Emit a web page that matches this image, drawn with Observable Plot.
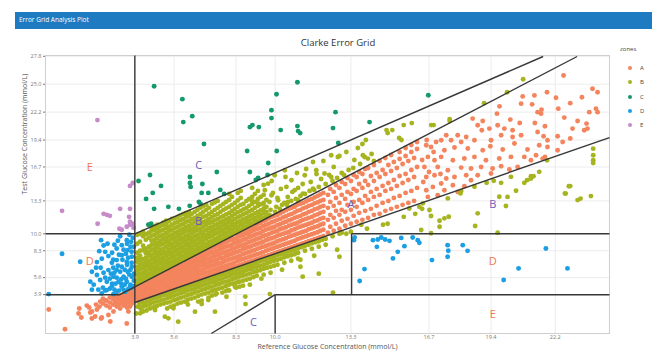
<!DOCTYPE html>
<html>
<head>
<meta charset="utf-8">
<script src="https://cdn.jsdelivr.net/npm/d3@7"></script>
<script src="https://cdn.jsdelivr.net/npm/@observablehq/plot@0.6"></script>
<style>
  html, body { margin: 0; padding: 0; background: #fff; }
  #wrap { position: relative; width: 652px; height: 352px; overflow: hidden; font-family: "Open Sans", sans-serif; }
  #wrap svg { position: absolute; left: 0; top: 0; }
  #bar { position: absolute; left: 15px; top: 12px; width: 637px; height: 17px; background: #1e7bc1; }
  #bar span { position: absolute; left: 4px; top: 3px; color: #fff; font-size: 6.5px; }
  #title { position: absolute; left: 0; width: 676px; top: 36px; text-align: center; font-size: 9.5px; color: #333; }
  #legend { position: absolute; left: 620px; top: 45px; font-size: 6px; color: #444; }
  #legend .head { margin-bottom: 11px; }
  #legend .item { position: relative; height: 14.3px; padding-left: 20px; line-height: 8px; }
  #legend .item i { position: absolute; left: 8px; top: 2px; width: 4px; height: 4px; border-radius: 50%; }
</style>
</head>
<body>
<div id="wrap">
  <div id="bar"><span>Error Grid Analysis Plot</span></div>
  <div id="title">Clarke Error Grid</div>
  <div id="legend"></div>
</div>
<script>
// Reference vs. test readings (mmol/L). Each row: [reference, test, test, ...]
const zoneA = [
  [0.14,2.4],[0.85,0.42],[1.44,2.0],[1.47,2.5],[1.56,1.6],[1.8,2.8],[1.9,2.6],[1.95,2.1],[2.02,1.5,2.2],[2.16,1.7],[2.24,2.4],
  [2.42,1.5],[2.45,1.6],[2.74,1.85],[2.82,1.2],[2.96,2.2],[3.54,1.0],[3.61,2.2],[3.68,2.7],[2.38,3.2],[2.6,3.35],
  [2.2,2.9],[2.35,2.7],[2.5,3.0,3.5],[2.65,2.8,3.3],[2.8,2.6,3.1,3.6],[2.95,2.9,3.4,3.8],[3.1,2.7,3.2,3.65],
  [3.25,2.5,3.0,3.45,3.85],[3.4,2.8,3.3,3.7,4.0],[3.55,2.6,3.1,3.5,3.9],[3.7,2.9,3.3,3.75,4.15],[3.82,3.1,3.55,4.0,4.4],
  [3.02,3.05,3.55],[3.17,2.9,3.4],[3.32,3.2,3.6],[3.47,2.95,3.4,3.8],[3.62,3.25,3.65,4.05],[3.76,3.0,3.45,3.9,4.3],
  [3.95,3.25,3.55,3.85,4.15,4.45],
  [4.02,3.35,3.7,4.0,4.3,4.6],
  [4.1,3.4,3.75,4.05,4.4,4.7],
  [4.22,3.5,3.85,4.2,4.5,4.85],
  [4.35,3.55,3.9,4.25,4.6,4.95],
  [4.47,3.7,4.05,4.4,4.75,5.1],
  [4.6,3.8,4.15,4.5,4.85,5.2,5.4],
  [4.72,3.85,4.25,4.6,4.95,5.3,5.55],
  [4.85,3.95,4.3,4.7,5.05,5.4,5.7],
  [4.97,4.05,4.4,4.8,5.15,5.5,5.85],
  [5.1,4.15,4.5,4.9,5.3,5.65,5.95],
  [5.22,4.25,4.6,5.0,5.4,5.75,6.1],
  [5.35,4.35,4.75,5.1,5.5,5.9,6.25],
  [5.47,4.45,4.85,5.25,5.6,6.0,6.4],
  [5.6,4.55,4.95,5.35,5.75,6.1,6.5],
  [5.72,4.65,5.05,5.45,5.85,6.25,6.65],
  [5.85,4.75,5.15,5.55,5.95,6.35,6.8],
  [5.97,4.85,5.25,5.65,6.05,6.45,6.85],
  [6.1,4.95,5.35,5.75,6.15,6.55,6.95,7.2],
  [6.22,5.05,5.45,5.85,6.3,6.7,7.1,7.35],
  [6.35,5.15,5.55,5.95,6.4,6.8,7.2,7.5],
  [6.47,5.25,5.65,6.05,6.5,6.9,7.3,7.65],
  [6.6,5.35,5.75,6.2,6.6,7.0,7.4,7.8],
  [6.72,5.45,5.9,6.3,6.75,7.15,7.55,7.95],
  [6.85,5.55,6.0,6.4,6.85,7.25,7.7,8.05],
  [6.97,5.65,6.1,6.55,6.95,7.4,7.8,8.2],
  [7.1,5.75,6.2,6.65,7.1,7.5,7.95,8.35],
  [7.22,5.85,6.3,6.75,7.2,7.6,8.05,8.5],
  [7.35,5.95,6.4,6.85,7.3,7.75,8.2,8.65],
  [7.47,6.05,6.5,6.95,7.4,7.85,8.3,8.75],
  [7.6,6.15,6.6,7.05,7.55,8.0,8.45,8.9],
  [7.72,6.25,6.7,7.15,7.6,8.1,8.55,9.0],
  [7.85,6.35,6.8,7.3,7.75,8.2,8.7,9.15],
  [7.97,6.45,6.9,7.4,7.85,8.3,8.8,9.3],
  [8.1,6.55,7.0,7.5,8.0,8.45,8.9,9.4,9.65],
  [8.22,6.65,7.1,7.6,8.1,8.55,9.05,9.5],
  [8.35,6.75,7.25,7.7,8.2,8.7,9.15,9.6,9.95],
  [8.47,6.85,7.35,7.8,8.3,8.8,9.25,9.75,10.1],
  [8.6,6.95,7.45,7.95,8.45,8.9,9.4,9.85,10.25],
  [8.72,7.05,7.55,8.05,8.55,9.0,9.5,10.0,10.4],
  [8.85,7.15,7.65,8.15,8.65,9.15,9.65,10.1,10.5],
  [8.97,7.25,7.75,8.25,8.75,9.25,9.75,10.25,10.65],
  [9.1,7.35,7.85,8.35,8.9,9.4,9.9,10.4,10.8],
  [9.22,7.45,7.95,8.5,9.0,9.5,10.0,10.5,10.95],
  [9.35,7.55,8.05,8.6,9.1,9.6,10.1,10.6,11.1],
  [9.47,7.65,8.15,8.7,9.2,9.75,10.25,10.75,11.25],
  [9.6,7.75,8.3,8.8,9.35,9.85,10.4,10.9,11.4],
  [9.72,7.85,8.4,8.9,9.45,9.95,10.5,11.0,11.55],
  [9.85,7.95,8.5,9.0,9.55,10.1,10.6,11.15,11.7],
  [9.97,8.05,8.6,9.1,9.65,10.2,10.7,11.25,11.8],
  [10.1,8.15,8.7,9.25,9.8,10.3,10.85,11.4,11.9],
  [10.22,8.25,8.8,9.35,9.9,10.45,10.95,11.5,12.05],
  [10.35,8.35,8.9,9.45,10.0,10.55,11.1,11.65,12.2],
  [10.47,8.45,9.0,9.55,10.1,10.65,11.2,11.75,12.35],
  [10.6,8.55,9.1,9.7,10.2,10.8,11.35,11.9,12.5],
  [10.72,8.65,9.2,9.8,10.35,10.9,11.45,12.0,12.6],
  [10.85,8.75,9.3,9.9,10.45,11.0,11.6,12.15,12.7],
  [10.97,8.85,9.45,10.0,10.6,11.1,11.7,12.3,12.9],
  [11.1,8.95,9.55,10.1,10.7,11.25,11.8,12.4,13.0],
  [11.22,9.05,9.65,10.2,10.8,11.4,11.95,12.55,13.1],
  [11.35,9.15,9.75,10.3,10.9,11.5,12.05,12.65,13.25],
  [11.47,9.25,9.85,10.45,11.0,11.6,12.2,12.8,13.4],
  [11.6,9.35,9.95,10.55,11.1,11.7,12.3,12.9,13.5],
  [11.72,9.45,10.05,10.65,11.25,11.85,12.45,13.05,13.65],
  [11.85,9.55,10.15,10.75,11.35,11.95,12.55,13.15,13.8],
  [11.97,9.65,10.3,10.9,11.5,12.1,12.7,13.3,13.95],
  [12.1,9.75,10.4,11.0,11.6,12.2,12.8,13.4,14.1],
  [12.3,10.1,11.4,12.6,13.9],[12.4,10.7,11.9,13.2,14.5],
  [12.55,10.3,11.6,12.8,14.2],[12.65,11.0,12.3,13.6,14.9],
  [12.8,10.5,11.9,13.1,14.6],[12.9,11.3,12.4,13.9,15.2],
  [13.05,10.8,12.2,13.5,15.0],[13.15,11.5,12.9,14.2,15.6],
  [13.3,11.0,12.4,14.0,15.3],[13.42,11.8,13.2,14.5,15.9],
  [13.55,11.2,12.7,14.3,15.7],[13.66,12.1,13.4,15.0,16.2],
  [13.8,11.4,13.1,14.6,16.0],[13.92,12.3,13.8,15.3,16.5],
  [14.05,11.6,13.4,14.9,16.6],[14.17,12.5,14.2,15.8],
  [14.3,11.9,13.7,15.3,16.9],[14.42,12.8,14.5,16.1],
  [14.55,12.0,13.9,15.7,17.3],[14.68,13.1,14.8,16.4],
  [14.8,12.3,14.3,16.0,17.6],[14.93,13.3,15.1,16.9],
  [15.05,12.5,14.5,16.3,17.9],[15.17,13.6,15.4,17.2],
  [15.3,12.7,14.8,16.6],[15.42,13.8,15.8,17.5,18.2],
  [15.55,12.9,15.1,17.0],[15.68,14.1,16.0,17.8,18.6],
  [15.8,13.1,15.4,17.3],[15.93,14.3,16.4,18.2,18.9],
  [16.05,13.3,15.7,17.6],[16.18,14.6,16.7,18.5,19.2],
  [22.56,25.88],[23.82,24.55],[24.04,24.2],[21.84,24.2],[22.23,23.65],[23.36,23.7],[20.78,23.78],[21.29,23.88],
  [19.77,22.78],[20.71,23.05],[21.19,22.98],[21.6,22.45],[21.43,22.2],[22.33,22.55],[22.85,23.1],[23.97,22.55],
  [24.04,22.2],[23.68,22.2],[21.58,22.05],[19.66,22.05],[18.6,21.55],[19.04,21.31],[20.24,21.45],[20.65,21.11],
  [21.31,21.11],[21.75,20.78],[22.59,21.65],[23.17,21.31],[23.56,21.05],[23.6,20.55],[22.95,20.55],[23.46,20.38],
  [18.82,20.88],[19.0,20.38],[19.33,20.55],[19.69,20.88],[19.98,20.55],[20.34,20.38],[19.84,19.88],[20.34,19.71],
  [20.71,19.88],[21.43,20.21],[21.69,19.78],[21.86,19.38],[22.3,19.78],[22.52,19.21],[22.85,19.55],[18.32,19.71],
  [18.68,19.38],[18.1,19.21],[17.66,19.38],[17.95,19.88],[17.45,19.88],[17.23,19.38],[17.01,19.21],[19.4,19.38],
  [19.37,18.78],[19.04,18.38],[18.39,18.55],[17.81,18.65],[17.37,18.38],[16.79,18.71],[16.58,18.88],[19.91,18.45],
  [20.42,19.05],[20.99,18.45],[21.5,18.88],[21.86,18.71],[21.36,17.88],[21.75,17.71],[22.3,18.38],[20.85,17.71],
  [20.27,17.71],[19.76,17.55],[19.18,17.38],[18.68,17.71],[18.24,17.55],[17.74,17.38],[17.23,17.71],[16.94,17.38],
  [16.65,17.71],[16.5,16.7],[17.08,16.7],[17.52,16.37],[18.1,16.64],[18.53,16.54],[18.97,16.7],[19.47,16.54],
  [19.84,16.77],[20.2,16.44],[20.56,16.7],[21.14,17.37],[21.65,17.54],[17.81,15.7],[18.32,15.87],[18.82,15.87],
  [19.4,16.04],[17.45,15.54],[16.94,15.87],[16.58,15.7],[17.23,15.04],[17.74,14.87],[18.24,14.77],[18.53,15.37],
  [16.87,14.7],[16.58,14.37],[17.37,14.37],[17.95,14.2],[17.08,13.87],[16.65,13.7],[16.45,15.2],[16.7,16.2],
  [16.4,17.4],[16.9,18.2],[17.2,16.0],[16.6,19.4]
];

const zoneB = [
  // above the A band
  [4.0,5.0,5.4,5.85,6.3,6.7,7.2,7.6,8.1,9.0,9.9],
  [4.12,5.15,5.55,6.0,6.45,6.9,7.35,7.8,8.3,9.2,10.0],
  [4.25,5.3,5.7,6.1,6.55,7.0,7.45,8.35,8.8,9.75,10.2],
  [4.37,5.45,5.85,6.3,6.75,7.15,7.6,8.05,8.5,9.4,9.95],
  [4.5,5.6,6.0,6.45,6.9,7.3,7.8,8.2,8.7,9.6,10.1],
  [4.62,5.75,6.15,6.6,7.0,7.45,7.9,8.4,8.85,9.3,9.8,10.3,10.6],
  [4.75,5.9,6.3,6.7,7.15,7.6,8.05,8.5,8.95,9.4,9.9,10.4,10.75],
  [4.87,6.05,6.45,6.9,7.3,7.75,8.2,8.65,9.1,9.6,10.1,10.55,10.9],
  [5.0,6.2,6.6,7.05,7.5,7.95,8.4,8.9,9.3,9.8,10.3,10.8],
  [5.12,6.35,6.75,7.2,7.6,8.05,8.5,9.0,9.45,9.9,10.4,10.9,11.1],
  [5.25,6.5,6.9,7.3,7.75,8.2,8.7,9.15,9.6,10.05,10.55,11.0,11.3],
  [5.37,6.65,7.05,7.5,7.95,8.4,8.85,9.3,9.75,10.25,10.7,11.25],
  [5.5,6.8,7.2,7.65,8.1,8.55,9.0,9.5,9.9,10.4,10.9,11.5],
  [5.62,6.95,7.35,7.8,8.25,8.7,9.15,9.6,10.05,10.55,11.05,11.55],
  [5.75,7.1,7.5,7.95,8.4,8.85,9.3,9.75,10.2,10.7,11.2,11.7],
  [5.87,7.25,7.65,8.1,8.55,9.0,9.45,9.9,10.35,10.85,11.35,11.85],
  [6.0,7.4,7.8,8.25,8.7,9.15,9.6,10.1,10.5,11.0,11.5,12.0],
  [6.12,7.55,7.95,8.4,8.85,9.3,9.75,10.25,10.7,11.2,11.7,12.1],
  [6.25,7.7,8.1,8.55,9.0,9.45,9.9,10.35,10.8,11.3,11.8,12.2],
  [6.37,7.85,8.25,8.7,9.15,9.6,10.05,10.5,11.0,11.5,12.0],
  [6.5,8.0,8.4,8.85,9.3,9.75,10.25,10.7,11.2,11.6,12.2],
  [6.62,8.15,8.55,9.0,9.45,9.9,10.4,10.85,11.35,11.8,12.4],
  [6.75,8.3,8.7,9.15,9.6,10.05,10.5,11.0,11.5,12.0,12.6],
  [6.87,8.45,8.85,9.3,9.75,10.2,10.7,11.15,11.7,12.2,12.75],
  [7.0,8.6,9.0,9.5,9.9,10.4,10.9,11.3,11.8,12.4,12.9],
  [7.12,8.75,9.15,9.65,10.1,10.55,11.05,11.5,12.0,12.6],
  [7.25,8.9,9.3,9.8,10.25,10.7,11.2,11.7,12.2,13.0],
  [7.37,9.05,9.45,9.95,10.4,10.85,11.35,11.85,12.4,13.15],
  [7.5,9.2,9.6,10.1,10.55,11.0,11.5,12.0,12.6,13.3],
  [7.62,9.35,9.8,10.25,10.7,11.15,11.65,12.2,12.8],
  [7.75,9.5,9.95,10.4,10.85,11.3,11.8,12.4,13.0],
  [7.87,9.65,10.1,10.55,11.0,11.45,11.95,12.55,13.2],
  [8.0,9.8,10.25,10.7,11.15,11.6,12.1,12.7,13.4,14.0],
  [8.12,9.95,10.4,10.85,11.3,11.8,12.3,12.9,13.7],
  [8.25,10.1,10.55,11.0,11.5,12.0,12.5,13.1],
  [8.37,10.25,10.7,11.15,11.65,12.15,12.7,13.35,14.1],
  [8.5,10.4,10.85,11.3,11.8,12.3,12.9,13.6,14.3],
  [8.62,10.55,11.0,11.45,11.95,12.45,13.0],
  [8.75,10.7,11.15,11.6,12.1,12.6,13.3],
  [8.87,10.85,11.3,11.75,12.25,12.8,13.5],
  [9.0,11.0,11.45,11.9,12.4,13.0,13.7,14.6],
  [9.12,11.15,11.6,12.05,12.6,13.2,14.0],
  [9.25,11.3,11.75,12.2,12.8,13.5,14.3],
  [9.37,11.45,11.9,12.35,12.95,13.7],
  [9.5,11.6,12.05,12.5,13.1,13.9,14.9],
  [9.62,11.75,12.2,12.7,13.4],
  [8.97,13.37],[9.26,13.03],[9.55,12.7,14.37],[9.69,15.03],[9.84,13.87],[9.98,15.87],[10.13,13.37],[10.42,16.37],
  [10.56,13.2],[11.0,13.37],[10.49,14.7],[10.71,15.37],[10.85,14.37],[11.21,14.03],[11.65,14.53,17.2],[11.29,15.87],
  [11.79,16.37],[12.15,16.04],[12.44,15.7,17.87],[12.73,17.7],[13.82,17.87],[14.04,17.54],
  [9.75,11.9],[9.8,12.4],[9.75,13.2],[9.9,14.1],[9.85,15.3],[10.0,12.2],[10.05,12.7],[10.1,13.6],[10.2,12.5],
  [10.3,12.9],[10.25,14.5],[10.4,13.1],[10.45,15.7],[10.5,12.9],[10.55,13.7],[10.7,13.3],[10.75,14.2],[10.9,13.5],
  [10.95,16.1],[11.0,14.6],[11.1,13.8],[11.2,15.0],[11.3,14.0],[11.35,16.5],[11.5,14.3],[11.55,15.2],[11.7,14.4],
  [11.8,16.0],[11.9,14.7],[12.0,15.5],[12.1,17.3],[12.2,15.0],[12.35,15.9],[12.5,15.3],[12.55,16.7],[12.7,15.6],
  [12.8,17.8],[12.9,16.1],[13.0,15.9],[13.2,16.4],[13.1,18.2],[13.4,16.6],[13.45,17.4],[13.6,18.6],[13.7,17.0],
  [13.8,19.0],[13.95,19.4],[13.9,17.7],[14.2,18.0],[14.3,17.3],[14.85,20.4],[14.9,20.1],[15.1,20.4],[15.4,19.6],
  [15.5,19.4],[15.6,20.9],[15.95,21.1],[16.8,20.9],[16.9,20.9],[17.6,21.5,21.3],[19.1,23.1],[20.1,24.2],[20.8,25.5],
  // below the A band
  [4.1,3.0,2.6],[4.25,3.1,2.7,2.2],[4.4,3.2,2.8,2.3],[4.55,3.35,2.95,2.5],[4.7,3.5,3.1,2.6],[4.85,3.6,3.2,2.75],
  [5.0,3.7,3.3,2.9],[5.15,3.85,3.4,3.0],[5.3,3.95,3.55,3.1,2.5],[5.45,4.05,3.65,3.2,2.7],[5.6,4.2,3.8,3.35,2.8],
  [5.75,4.3,3.9,3.45,3.0],[5.9,4.45,4.05,3.6,3.1],[6.05,4.55,4.15,3.7,3.2],[6.2,4.7,4.3,3.85,3.4,2.9],
  [6.35,4.8,4.4,3.95,3.5],[6.5,4.9,4.5,4.1,3.6],[6.65,5.05,4.65,4.2,3.75,3.2],[6.8,5.2,4.8,4.35,3.9,3.3],
  [6.95,5.3,4.9,4.45,4.0],[7.1,5.4,5.0,4.6,4.1,3.6],[7.25,5.55,5.15,4.7,4.25,3.8],[7.4,5.65,5.25,4.85,4.4,3.9],
  [7.55,5.8,5.4,4.95,4.5],[7.7,5.9,5.5,5.1,4.6,4.1],[7.85,6.05,5.65,5.2,4.75,4.25],[8.0,6.15,5.75,5.3,4.9,4.3],
  [8.15,6.3,5.9,5.45,5.0],[8.3,6.4,6.0,5.6,5.1,4.6],[8.45,6.5,6.1,5.7,5.2,4.7],[8.6,6.6,6.2,5.8,5.3,4.8],
  [8.75,6.75,6.35,5.9,5.4],[8.9,6.85,6.45,6.0,5.5,4.9],[9.05,7.0,6.6,6.15,5.65],[9.2,7.1,6.7,6.25,5.8],
  [9.35,7.25,6.8,6.35],[9.5,7.35,6.9,6.5,5.9],[9.65,7.5,7.05,6.6],[9.8,7.6,7.2,6.7,6.1],[9.95,7.7,7.3,6.8],
  [10.1,7.85,7.4,6.9],[10.25,7.95,7.5],[10.4,8.05,7.65,7.1],[10.55,8.2,7.75],[10.7,8.3,7.85,7.3],[10.85,8.4,7.95],
  [11.0,8.55,8.1,7.5],[11.15,8.65],[11.3,8.8,8.3],[11.45,8.9],[11.6,9.05,8.5],[11.75,9.15],[11.9,9.25,8.7],
  [12.05,9.4],[12.2,9.5,8.9],[12.5,9.75],[12.8,10.0],
  [4.0,2.7],[4.12,2.02],[4.34,2.86],[4.77,2.36,2.68],[5.2,1.69],[5.57,2.52],[5.78,1.19],[6.15,3.19],[6.51,2.19],
  [6.8,2.96],[7.09,3.36],[7.38,2.19],[7.45,4.02],[7.88,3.69],[7.96,4.36],[8.25,4.69],[8.4,5.2],[8.7,3.7],
  [8.71,2.95],[9.77,3.95],[12.52,4.08],[5.35,1.52],[4.19,2.28],[3.95,2.0],[9.4,5.5],[10.3,6.4],[11.1,7.4,6.7],
  [11.2,5.7],[11.9,6.0],[11.7,7.8],[12.7,8.4],[12.8,7.7],[12.9,10.1],[13.1,10.0],[13.3,10.2],[13.75,10.9],
  [14.0,10.5],[14.7,10.9],[14.9,11.0],[15.6,11.7],[16.1,12.0],[16.4,12.5],[15.84,12.53],[16.28,12.7],
  [23.85,18.54,17.87,17.37,17.1],[21.84,17.38],[21.5,16.21],[21.14,15.78],[20.97,15.38],[20.85,15.11],[20.27,15.71],
  [20.49,14.31],[19.84,15.11],[19.76,13.71],[20.05,12.78],[19.52,15.31],[19.21,15.11],[18.68,14.71],[18.07,14.05],
  [17.52,13.55],[18.82,12.05],[18.71,10.78],[17.56,11.71],[17.37,11.55],[17.16,11.31,10.71],[16.79,11.78,10.05],
  [16.72,12.38],[19.69,10.11],[22.85,14.78],[22.62,14.05],[23.17,13.38],[23.75,13.78],[16.36,10.38],[16.43,13.05],
  [22.79,14.77],[22.65,14.03],[23.3,13.53],[21.13,15.53],[21.25,15.77],[20.12,13.7],[18.1,14.3]
];

const zoneC = [
  [4.73,24.8],[5.96,23.5],[6.0,21.2],[6.39,21.8],[6.9,19.0],[10.97,25.2],[10.06,24.0],[9.84,22.4,21.6],[8.9,20.7],
  [9.01,20.9],[9.29,20.7],[10.24,20.4],[10.97,20.8],[11.0,20.3],[11.09,20.1],[12.63,22.2],[12.52,20.6],[12.75,19.1],
  [14.11,21.2],[8.78,18.3],[10.07,18.3],[9.7,17.1],[8.9,16.2],[9.26,15.6],[9.16,15.4],[9.67,15.9],[7.46,16.2],
  [6.29,15.7,15.1],[6.32,14.7],[6.83,15.0],[6.8,14.1],[7.09,14.1],[7.61,14.4],[7.78,14.0],[5.03,14.8],[4.55,15.9],
  [4.05,15.3],[4.67,14.1],[4.38,13.5],[4.73,12.5],[5.35,12.7],[5.81,12.5],[6.68,13.2],[6.75,13.0],[6.28,12.8],
  [4.6,11.0],[4.48,10.9],[16.67,23.9]
];

const zoneD = [
  [0.72,8.0],[0.14,3.95],[1.51,7.2],[2.02,4.4],[2.42,9.36],[2.53,8.83],[2.34,8.26],[2.6,8.19],[2.74,7.76],[2.45,7.49],
  [2.24,7.16],[2.89,7.09],[2.02,6.19],[2.24,5.86],[2.53,6.09],[2.74,6.36],[2.96,5.69],[2.38,5.36],[2.67,5.19],
  [3.25,9.76],[3.54,9.36],[3.73,9.2],[3.32,8.86],[3.1,8.53],[3.58,8.36],[3.32,7.86],[3.76,7.69],[3.1,7.36],
  [3.54,7.19],[3.32,6.69],[3.76,6.69],[3.1,6.36],[3.58,6.19],[3.4,5.69],[3.76,5.69],[3.18,5.19],[3.54,5.19],
  [2.89,4.75],[3.32,4.69],[3.68,4.69],[2.67,4.35],[3.1,4.18],[3.47,4.18],[3.83,4.75],[2.45,4.02],[2.96,3.95],
  [2.6,4.3],[2.8,4.5],[3.0,4.4],[3.2,4.3],[3.4,4.4],[3.6,4.45],[3.75,4.6],[2.9,5.0],[3.05,5.0],[3.3,5.0],
  [3.45,4.9],[3.7,4.9],[2.8,5.5],[3.1,5.6],[3.3,5.45],[3.5,5.5],[3.65,5.9],[2.85,6.0],[3.0,6.1],[3.25,6.2],
  [3.45,6.4],[3.7,6.4],[2.95,6.6],[3.15,6.8],[3.55,6.9],[3.75,7.1],[2.95,7.4],[3.35,7.4],[3.6,7.6],[3.2,7.9],
  [3.5,8.0],[3.75,8.2],[2.9,8.1],[3.4,8.4],[3.7,8.7],[3.0,8.9],[3.55,9.0],[3.8,9.6],[2.2,6.6],[2.4,6.6],
  [1.95,5.2],[2.1,4.9],[2.3,4.4],[2.5,4.6],[2.6,5.6],[3.85,5.3],[3.85,6.0],[3.15,9.3],[2.7,9.0],[3.65,9.9],[3.85,8.7],
  [13.43,9.36],[13.46,9.63],[14.26,9.36],[14.47,9.43],[14.62,9.63],[14.79,9.43],[14.98,9.29],[15.49,9.59],
  [15.63,8.76],[15.34,8.19],[15.13,7.53],[15.99,9.63],[16.21,9.36],[16.28,9.09],[13.89,6.46],[13.68,5.26],
  [14.43,8.69],[17.51,8.86,7.69],[17.54,8.3],[18.17,8.86],[18.38,8.29],[16.83,7.36],[21.79,8.53],[20.6,6.53],
  [19.95,5.36],[22.73,6.53]
];

const zoneE = [
  [2.26,21.4],[0.72,12.3],[2.53,12.0],[2.67,11.9],[2.8,11.8],[2.27,11.0],[3.25,12.5],[3.68,12.5],[3.64,11.7],
  [3.68,14.8],[3.8,15.1],[3.68,10.9],[3.79,11.0],[3.83,10.6],[3.22,10.5],[3.54,10.7],[3.68,11.2],[3.32,10.4]
];

const zoneNames = ["A", "B", "C", "D", "E"];
const zoneColors = ["#f4845d", "#a6b51f", "#13996b", "#1b9fe2", "#c78bc9"];

// Clarke grid boundaries, [[x1, y1], [x2, y2]] in mmol/L
const boundaries = [
  [[0, 3.89], [3.24, 3.89]],
  [[3.24, 3.89], [23.15, 27.78]],
  [[3.89, 0], [3.89, 27.88]],
  [[0, 10], [3.89, 10]],
  [[3.89, 10], [21.67, 27.78]],
  [[3.89, 3.11], [24.56, 19.65]],
  [[10, 0], [10, 3.89]],
  [[10, 3.89], [24.56, 3.89]],
  [[13.33, 3.89], [13.33, 10]],
  [[13.33, 10], [24.56, 10]],
  [[7.22, 0], [10, 3.89]]
];

const regionLabels = ["E", "C", "B", "A", "B", "D", "D", "C", "E"];
const regionX = [1.93, 6.67, 6.67, 13.3, 19.48, 1.93, 19.48, 9.06, 19.48];
const regionY = [16.7, 16.9, 11.2, 12.9, 12.9, 7.2, 7.2, 1.15, 1.95];

const xTicks = [3.9, 5.6, 8.3, 10.0, 13.3, 16.7, 19.4, 22.2];
const yTicks = [3.9, 5.6, 8.3, 10.0, 13.3, 16.7, 19.4, 22.2, 25.0, 27.8];

const rows = (list, zone) => list.flatMap(([ref, ...tests]) => tests.map(test => ({ref, test, zone})));
const points = [
  ...rows(zoneA, "A"), ...rows(zoneB, "B"), ...rows(zoneC, "C"), ...rows(zoneD, "D"), ...rows(zoneE, "E")
];
const labels = regionLabels.map((text, i) => ({
  text, x: regionX[i], y: regionY[i], warm: text === "D" || text === "E"
}));

const chart = Plot.plot({
  width: 652,
  height: 352,
  marginLeft: 45,
  marginRight: 43,
  marginTop: 55,
  marginBottom: 19,
  style: {fontFamily: "Open Sans, sans-serif", background: "transparent", color: "#777"},
  x: {domain: [0, 24.56]},
  y: {domain: [0, 27.88]},
  color: {domain: zoneNames, range: zoneColors},
  marks: [
    Plot.gridX(xTicks, {stroke: "#ececec", strokeOpacity: 1}),
    Plot.gridY(yTicks, {stroke: "#ececec", strokeOpacity: 1}),
    Plot.frame({stroke: "#cfcfcf"}),
    Plot.dot(points, {x: "ref", y: "test", fill: "zone", r: 2.45}),
    Plot.link(boundaries, {
      x1: d => d[0][0], y1: d => d[0][1], x2: d => d[1][0], y2: d => d[1][1],
      stroke: "#383838", strokeWidth: 1.4
    }),
    Plot.text(labels, {
      x: "x", y: "y", text: "text", fontSize: 11,
      fill: d => d.warm ? "#ef7651" : "#6a5db8"
    }),
    Plot.axisX(xTicks, {tickSize: 0, tickPadding: 1.5, fontSize: 5.5, tickFormat: d => d.toFixed(1), label: null}),
    Plot.axisY(yTicks, {tickSize: 2, tickPadding: 2, fontSize: 5.5, tickFormat: d => d.toFixed(1), label: null}),
    Plot.text(["Reference Glucose Concentration (mmol/L)"], {
      frameAnchor: "bottom", dy: 15, fontSize: 7, fill: "#555"
    }),
    Plot.text(["Test Glucose Concentration (mmol/L)"], {
      frameAnchor: "left", dx: -21, rotate: -90, fontSize: 7, fill: "#555"
    })
  ]
});

document.getElementById("wrap").prepend(chart);

const legend = d3.select("#legend");
legend.append("div").attr("class", "head").text("zones");
zoneNames.forEach((z, i) => {
  const item = legend.append("div").attr("class", "item");
  item.append("i").style("background", zoneColors[i]);
  item.append("span").text(z);
});
</script>
</body>
</html>
